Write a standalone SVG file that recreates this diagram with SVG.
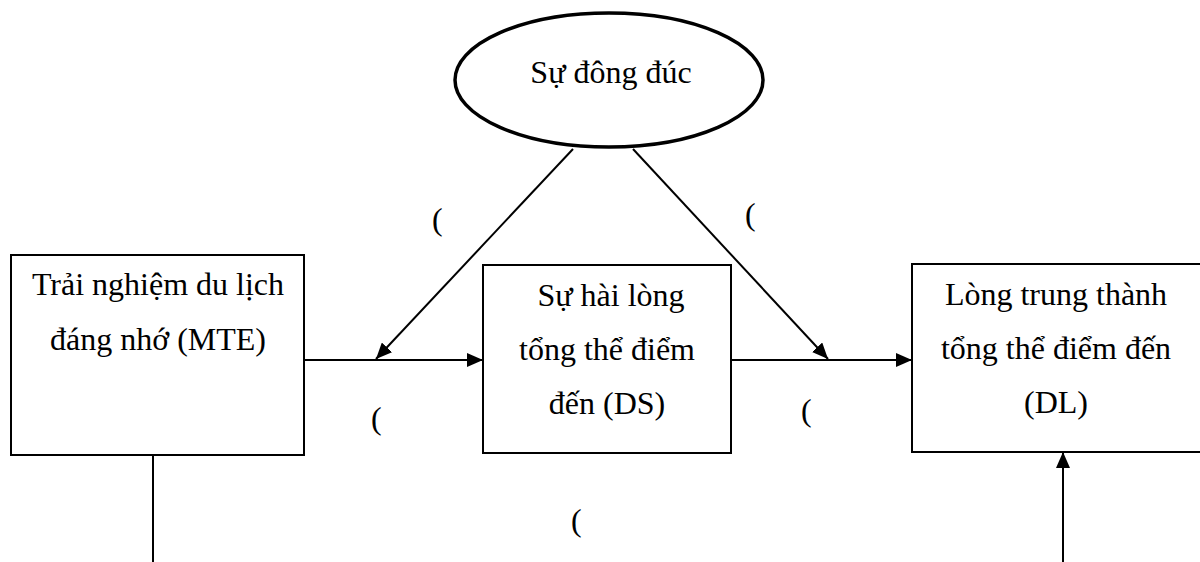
<svg xmlns="http://www.w3.org/2000/svg" width="1200" height="562" viewBox="0 0 1200 562">
<defs>
<marker id="arr" viewBox="0 0 16 14" refX="16" refY="7" markerWidth="16" markerHeight="14" markerUnits="userSpaceOnUse" orient="auto">
<path d="M0,0 L16,7 L0,14 z" fill="#000"/>
</marker>
<style>
.box{fill:#fff;stroke:#000;stroke-width:2}
.ell{fill:#fff;stroke:#000;stroke-width:3.5}
.t{font-size:32px;fill:#000;text-anchor:middle}
.p{font-size:32px;fill:#000}
.c{stroke:#000;stroke-width:2;fill:none}
.ca{stroke:#000;stroke-width:2;fill:none;marker-end:url(#arr)}
</style>
</defs>
<rect width="1200" height="562" fill="#fff"/>
<g id="connectors">
<line class="ca" x1="304" y1="360" x2="483" y2="360"/>
<line class="ca" x1="731" y1="360" x2="912" y2="360"/>
<line class="ca" x1="573" y1="149" x2="376" y2="359"/>
<line class="ca" x1="633" y1="149" x2="828" y2="359"/>
<line class="c" x1="153" y1="455" x2="153" y2="562"/>
<line class="ca" x1="1063" y1="562" x2="1063" y2="452"/>
</g>
<g font-family="'Liberation Serif', 'DejaVu Serif', serif">
<g id="node-crowding">
<ellipse class="ell" cx="609" cy="80" rx="154" ry="67"/>
<text class="t" x="611" y="83">Sự đông đúc</text>
</g>
<g id="node-mte">
<rect class="box" x="11" y="255" width="293" height="200"/>
<text class="t" x="158" y="295">Trải nghiệm du lịch</text>
<text class="t" x="158" y="350">đáng nhớ (MTE)</text>
</g>
<g id="node-ds">
<rect class="box" x="483" y="265" width="248" height="188"/>
<text class="t" x="611" y="306">Sự hài lòng</text>
<text class="t" x="607" y="360">tổng thể điểm</text>
<text class="t" x="607" y="414">đến (DS)</text>
</g>
<g id="node-dl">
<rect class="box" x="912" y="264" width="300" height="188"/>
<text class="t" x="1056" y="305">Lòng trung thành</text>
<text class="t" x="1056" y="359">tổng thể điểm đến</text>
<text class="t" x="1056" y="413">(DL)</text>
</g>
<g id="labels">
<text class="p" x="432" y="230">(</text>
<text class="p" x="745" y="225">(</text>
<text class="p" x="371" y="429">(</text>
<text class="p" x="801" y="421">(</text>
<text class="p" x="571" y="531">(</text>
</g>
</g>
</svg>
